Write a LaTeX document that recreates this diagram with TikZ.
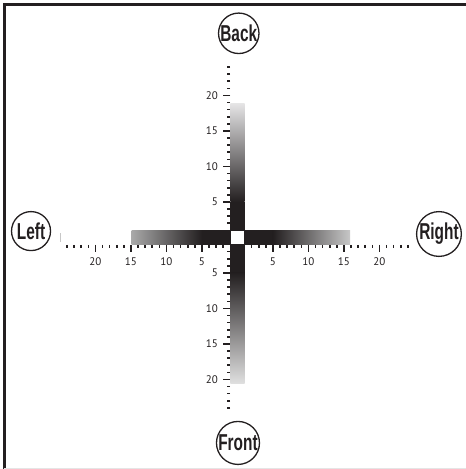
\documentclass[tikz,border=0pt]{standalone}
\usepackage{fontspec}
\newfontfamily\dirfont[FakeStretch=0.67]{Liberation Sans}
\newfontfamily\numfont{PT Sans}
\definecolor{ink}{RGB}{35,31,32}

\begin{document}
\begin{tikzpicture}[x=7.1pt,y=7.1pt,
 dir/.style={draw=ink,circle,line width=1.3pt,inner sep=0pt,minimum size=39pt,
   text=ink,font=\dirfont\bfseries\fontsize{23}{23}\selectfont},
 num/.style={inner sep=0pt,text=ink,font=\numfont\fontsize{11}{11}\selectfont},
 tickmark/.style={draw=ink,line width=1.6pt}]
\useasboundingbox (-33.45,-32.61) rectangle (32.18,33.45);
\draw[ink,line width=2.7pt] (-32.85,-32.61) -- (-32.85,32.79) -- (32.18,32.79);
\draw[black!10,line width=1pt] (-32.85,-32.47) -- (32.18,-32.47);
\foreach \i in {-24,...,-1,1,2,...,24}{
  \draw[tickmark] (\i,-1.05) -- (\i,-1.5);
  \draw[tickmark] (-1.05,\i) -- (-1.5,\i);
}
\foreach \t in {5,10,15,20}{
  \draw[tickmark] (-\t,-1.05) -- (-\t,-2.05);
  \draw[tickmark] (\t,-1.05) -- (\t,-2.05);
  \draw[tickmark] (-1.05,\t) -- (-2.1,\t);
  \draw[tickmark] (-1.05,-\t) -- (-2.1,-\t);
  \node[num] (hl\t) at (-\t,-3.45) {\t};
  \node[num] (hr\t) at (\t,-3.45) {\t};
  \node[num,anchor=east] (vt\t) at (-2.75,\t) {\t};
  \node[num,anchor=east] (vb\t) at (-2.75,-\t) {\t};
}
\fill[ink] (-1,-5) rectangle (1,5);
\fill[ink] (-5,-1) rectangle (5,1);
\shade[top color=black!10,bottom color=ink] (-1,5) rectangle (1,18.94);
\shade[top color=ink,bottom color=black!12] (-1,-20.63) rectangle (1,-5);
\shade[left color=black!34,right color=ink] (-14.9,-1) rectangle (-5,1);
\shade[left color=ink,right color=black!22] (5,-1) rectangle (15.85,1);
\fill[white] (-0.85,-0.85) rectangle (0.85,0.85);
\draw[black!22,line width=0.8pt] (-24.9,0.63) -- (-24.9,-0.63);
\node[dir] (back) at (0.18,28.76) {Back};
\node[dir,minimum size=43pt] (front) at (0.07,-28.94) {Front};
\node[dir] (left) at (-29.08,0.9) {Left};
\node[dir] (right) at (28.38,0.49) {Right};
\end{tikzpicture}
\end{document}
